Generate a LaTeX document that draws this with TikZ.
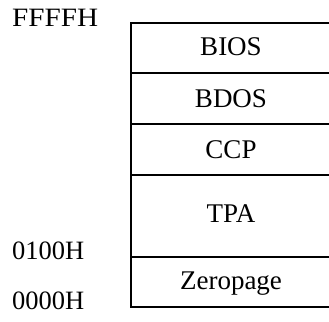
\documentclass[tikz,border=0pt]{standalone}
\usepackage{fontspec}
\setmainfont{Liberation Serif}
\begin{document}
\begin{tikzpicture}[x=1pt,y=-1pt,
  wall/.style={line width=1.8pt},
  region/.style={anchor=base,font=\fontsize{27}{27}\selectfont,inner sep=0pt},
  addr/.style={anchor=base west,font=\fontsize{26.5}{26.5}\selectfont,inner sep=0pt}]
\useasboundingbox (0,0) rectangle (329,321);
% boundaries between memory regions (open on the right)
\coordinate (t0) at (131,22.7);
\coordinate (t1) at (131,72.7);
\coordinate (t2) at (131,124.3);
\coordinate (t3) at (131,175);
\coordinate (t4) at (131,256.7);
\coordinate (t5) at (131,306.7);
\coordinate (e0) at (329,22.7);
\coordinate (e1) at (329,72.7);
\coordinate (e2) at (329,124.3);
\coordinate (e3) at (329,175);
\coordinate (e4) at (329,256.7);
\coordinate (e5) at (329,306.7);
\draw[wall] (e0) -- (t0) -- (t5) -- (e5);
\foreach \i in {1,...,4} \draw[wall] (t\i) -- (e\i);
% region names
\node[region] (bios) at (231,56) {BIOS};
\node[region] (bdos) at (231,107.5) {BDOS};
\node[region] (ccp)  at (231,158.5) {CCP};
\node[region] (tpa)  at (231,222) {TPA};
\node[region] (zp)   at (231,289) {Zeropage};
% addresses
\node[addr,xscale=1.1] (top) at (12,27) {FFFFH};
\node[addr] (a100) at (12,259) {0100H};
\node[addr] (a0)   at (12,309) {0000H};
\end{tikzpicture}
\end{document}
